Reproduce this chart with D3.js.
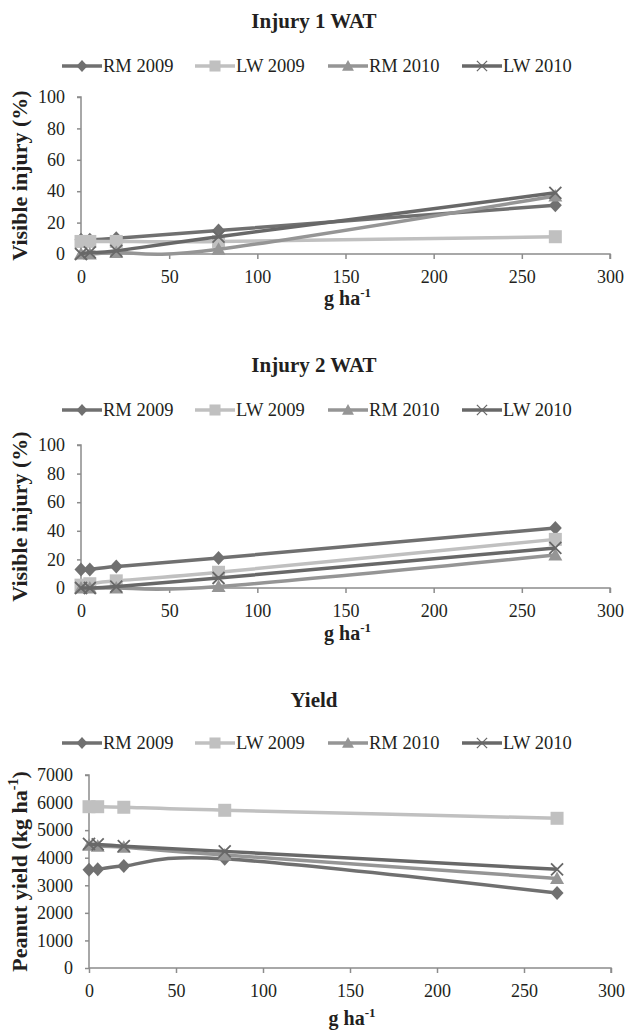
<!DOCTYPE html>
<html>
<head>
<meta charset="utf-8">
<script src="https://cdn.jsdelivr.net/npm/d3@7"></script>
<style>
  body { margin: 0; background: #fff; }
  svg { display: block; }
</style>
</head>
<body>
<script>
// doses (g ha-1)
const doses = [0, 5, 20, 78, 269];
const seriesNames = ["RM 2009", "LW 2009", "RM 2010", "LW 2010"];

// Injury 1 WAT (%)
const inj1RM2009 = [9, 9, 10, 15, 31];
const inj1LW2009 = [8, 8, 8, 8, 11];
const inj1RM2010 = [0, 0, 1, 3, 37];
const inj1LW2010 = [0, 1, 2, 11, 39];

// Injury 2 WAT (%)
const inj2RM2009 = [13, 13, 15, 21, 42];
const inj2LW2009 = [2, 3, 5, 11, 34];
const inj2RM2010 = [0, 0, 0, 1, 23];
const inj2LW2010 = [0, 0, 1, 7, 28];

// Yield (kg ha-1)
const yldRM2009 = [3560, 3580, 3700, 3960, 2720];
const yldLW2009 = [5850, 5850, 5830, 5720, 5430];
const yldRM2010 = [4450, 4420, 4380, 4100, 3250];
const yldLW2010 = [4500, 4480, 4420, 4230, 3580];

const xTicks = [0, 50, 100, 150, 200, 250, 300];
const injuryTicks = [0, 20, 40, 60, 80, 100];
const yieldTicks = [0, 1000, 2000, 3000, 4000, 5000, 6000, 7000];

const colors = ["#707070", "#c0c0c0", "#959595", "#686868"];
const markers = ["diamond", "square", "triangle", "x"];

const W = 628, H = 1030;
const svg = d3.select("body").append("svg").attr("width", W).attr("height", H)
  .style("font-family", "'Liberation Serif', 'Times New Roman', serif");

function markerPath(type) {
  const p = d3.path();
  if (type === "diamond") {
    p.moveTo(0, -7); p.lineTo(6.5, 0); p.lineTo(0, 7); p.lineTo(-6.5, 0); p.closePath();
  } else if (type === "square") {
    p.rect(-6.5, -6.5, 13, 13);
  } else if (type === "triangle") {
    p.moveTo(0, -7); p.lineTo(7, 5.5); p.lineTo(-7, 5.5); p.closePath();
  } else {
    p.moveTo(-6, -6); p.lineTo(6, 6); p.moveTo(6, -6); p.lineTo(-6, 6);
  }
  return p.toString();
}

function panel(cfg) {
  const g = svg.append("g");
  const x = d3.scaleLinear().domain([0, 300]).range([cfg.left, cfg.right]);
  const y = d3.scaleLinear().domain([0, cfg.yMax]).range([cfg.bottom, cfg.top]);

  // title
  g.append("text").attr("x", 314).attr("y", cfg.titleY)
    .attr("text-anchor", "middle").attr("font-weight", "bold").attr("font-size", 21)
    .attr("fill", "#231f20").text(cfg.title);

  // legend
  const legX = [62, 195, 328, 462];
  seriesNames.forEach((name, i) => {
    const lg = g.append("g").attr("transform", `translate(${legX[i]},${cfg.legendY})`);
    lg.append("line").attr("x1", 0).attr("x2", 40).attr("y1", 0).attr("y2", 0)
      .attr("stroke", colors[i]).attr("stroke-width", 3.5);
    const m = lg.append("path").attr("d", markerPath(markers[i]))
      .attr("transform", "translate(20,0) scale(0.85)");
    if (markers[i] === "x") m.attr("fill", "none").attr("stroke", colors[i]).attr("stroke-width", 1.5);
    else m.attr("fill", colors[i]);
    lg.append("text").attr("x", 41).attr("y", 6).attr("font-size", 18.5)
      .attr("fill", "#231f20").text(name);
  });

  // axes
  const yAxis = g.append("g").attr("transform", `translate(${cfg.left},0)`)
    .call(d3.axisLeft(y).tickValues(cfg.yTicks).tickSize(4).tickPadding(12).tickFormat(d3.format("d")));
  const xAxis = g.append("g").attr("transform", `translate(0,${cfg.bottom})`)
    .call(d3.axisBottom(x).tickValues(xTicks).tickSize(5).tickPadding(11));
  [yAxis, xAxis].forEach(a => {
    a.select(".domain").attr("stroke", "#8c8c8c").attr("stroke-width", 1.5);
    a.selectAll(".tick line").attr("stroke", "#8c8c8c").attr("stroke-width", 1.5);
    a.selectAll(".tick text").attr("font-size", 18).attr("fill", "#231f20")
      .style("font-family", "'Liberation Serif', serif");
  });
  yAxis.select(".domain").attr("d", `M-4,${cfg.top}H0V${cfg.bottom}`);
  xAxis.select(".domain").attr("d", `M${cfg.left},0H${cfg.right}V5`);

  // axis titles
  const xt = g.append("text").attr("x", (cfg.left + cfg.right) / 2 + 2).attr("y", cfg.xLabelY)
    .attr("text-anchor", "middle").attr("font-weight", "bold").attr("font-size", 20).attr("fill", "#231f20");
  xt.append("tspan").text("g ha");
  xt.append("tspan").attr("font-size", 13).attr("dy", -8).text("-1");

  const yt = g.append("text")
    .attr("transform", `translate(${cfg.yLabelX},${(cfg.top + cfg.bottom) / 2 + cfg.yLabelShift}) rotate(-90)`)
    .attr("text-anchor", "middle").attr("font-weight", "bold").attr("font-size", cfg.yLabelSize).attr("fill", "#231f20");
  if (cfg.yieldLabel) {
    yt.append("tspan").text("Peanut yield (kg ha");
    yt.append("tspan").attr("font-size", 14).attr("dy", -9).text("-1");
    yt.append("tspan").attr("dy", 9).text(")");
  } else {
    yt.text("Visible injury (%)");
  }

  // series
  const line = d3.line().x((d, i) => x(doses[i])).y(d => y(d)).curve(d3.curveCardinal.tension(0));
  cfg.series.forEach((vals, i) => {
    g.append("path").datum(vals).attr("d", line).attr("fill", "none")
      .attr("stroke", colors[i]).attr("stroke-width", 3.5).attr("stroke-linejoin", "round");
    g.selectAll(null).data(vals).enter().append("path")
      .attr("d", markerPath(markers[i]))
      .attr("transform", (d, j) => `translate(${x(doses[j])},${y(d)})`)
      .attr("fill", markers[i] === "x" ? "none" : colors[i])
      .attr("stroke", markers[i] === "x" ? colors[i] : "none")
      .attr("stroke-width", 1.8);
  });
}

panel({
  title: "Injury 1 WAT", titleY: 28, legendY: 66,
  left: 81, right: 610, top: 97, bottom: 254, yMax: 100, yTicks: injuryTicks,
  xLabelY: 305, yLabelX: 27, yLabelShift: 0, yLabelSize: 22,
  series: [inj1RM2009, inj1LW2009, inj1RM2010, inj1LW2010]
});
panel({
  title: "Injury 2 WAT", titleY: 372, legendY: 410,
  left: 81, right: 610, top: 445, bottom: 588, yMax: 100, yTicks: injuryTicks,
  xLabelY: 640, yLabelX: 27, yLabelShift: 0, yLabelSize: 22,
  series: [inj2RM2009, inj2LW2009, inj2RM2010, inj2LW2010]
});
panel({
  title: "Yield", titleY: 707, legendY: 743,
  left: 89, right: 611, top: 775, bottom: 968, yMax: 7000, yTicks: yieldTicks,
  xLabelY: 1025, yLabelX: 27, yLabelShift: 0, yLabelSize: 22,
  yieldLabel: true,
  series: [yldRM2009, yldLW2009, yldRM2010, yldLW2010]
});
</script>
</body>
</html>
